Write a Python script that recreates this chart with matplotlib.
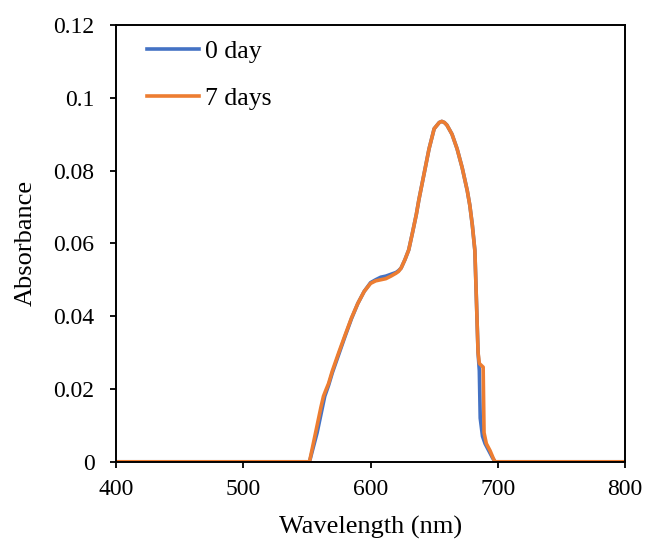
import matplotlib.pyplot as plt
from matplotlib.ticker import FixedLocator

# Absorbance spectra
wl_0day = [400, 552, 555, 558, 561, 564, 567, 570, 575, 580, 585, 590, 595, 600, 604,
           608, 612, 616, 620, 622, 624, 627, 630, 633, 636, 638, 642, 646, 650, 654,
           656, 658, 660, 664, 668, 672, 676, 678, 680, 682, 684.5, 685.5, 686.2,
           688, 690, 693, 696, 698, 700, 800]
abs_0day = [0, 0, 0.004, 0.008, 0.013, 0.018, 0.021, 0.0245, 0.0295, 0.0345, 0.0393,
            0.0435, 0.0468, 0.0492, 0.0500, 0.0507, 0.0510, 0.0515, 0.0520, 0.0525,
            0.0532, 0.0555, 0.0582, 0.063, 0.068, 0.072, 0.079, 0.086, 0.0915, 0.0932,
            0.0935, 0.0932, 0.0925, 0.0900, 0.0860, 0.0808, 0.0745, 0.0705, 0.0650,
            0.0580, 0.030, 0.025, 0.012, 0.007, 0.005, 0.003, 0.001, 0.0, 0, 0]

wl_7days = [400, 552, 555, 558, 561, 563, 565, 567, 570, 575, 580, 585, 590, 595, 600,
            604, 608, 612, 616, 620, 622, 624, 627, 630, 633, 636, 638, 642, 646, 650,
            654, 656, 658, 660, 664, 668, 672, 676, 678, 680, 682, 684.5, 685.5, 688.5,
            689.2, 691, 694, 697, 698, 700, 800]
abs_7days = [0, 0, 0.005, 0.010, 0.015, 0.018, 0.0198, 0.0215, 0.025, 0.030, 0.0348,
             0.0395, 0.0435, 0.0468, 0.0490, 0.0497, 0.0500, 0.0503, 0.0510, 0.0518,
             0.0523, 0.0532, 0.0555, 0.0582, 0.063, 0.068, 0.072, 0.079, 0.086, 0.0915,
             0.0932, 0.0935, 0.0932, 0.0925, 0.0900, 0.0860, 0.0808, 0.0745, 0.0705,
             0.0650, 0.0580, 0.030, 0.027, 0.026, 0.008, 0.005, 0.003, 0.0005, 0, 0, 0]

x_ticks = [400, 500, 600, 700, 800]
y_ticks = [0, 0.02, 0.04, 0.06, 0.08, 0.1, 0.12]
y_labels = ['0', '0.02', '0.04', '0.06', '0.08', '0.1', '0.12']

plt.rcParams['font.family'] = ['Liberation Serif', 'DejaVu Serif']

fig = plt.figure(figsize=(6.45, 5.42), dpi=100)
ax = fig.add_axes([0.180, 0.148, 0.789, 0.806])

ax.plot(wl_0day, abs_0day, color='#4472C4', lw=2.6, label='0 day')
ax.plot(wl_7days, abs_7days, color='#ED7D31', lw=2.6, label='7 days')

ax.set_xlim(400, 800)
ax.set_ylim(0, 0.12)
ax.xaxis.set_major_locator(FixedLocator(x_ticks))
ax.yaxis.set_major_locator(FixedLocator(y_ticks))
ax.set_yticklabels(y_labels)
ax.tick_params(axis='both', direction='out', length=4.5, width=1.3,
               labelsize=17, color='black', labelcolor='black')
ax.tick_params(axis='y', pad=11)
ax.tick_params(axis='x', pad=8)

for s in ax.spines.values():
    s.set_linewidth(1.4)
    s.set_color('black')

ax.set_xlabel('Wavelength (nm)', fontsize=19, labelpad=11)
ax.set_ylabel('Absorbance', fontsize=19, labelpad=12)

ax.legend(loc='upper left', frameon=False, fontsize=18.5, handlelength=2.05,
          labelspacing=0.95, handletextpad=0.2, borderaxespad=0,
          bbox_to_anchor=(0.04, 0.99))

plt.savefig('out.png', dpi=100)
